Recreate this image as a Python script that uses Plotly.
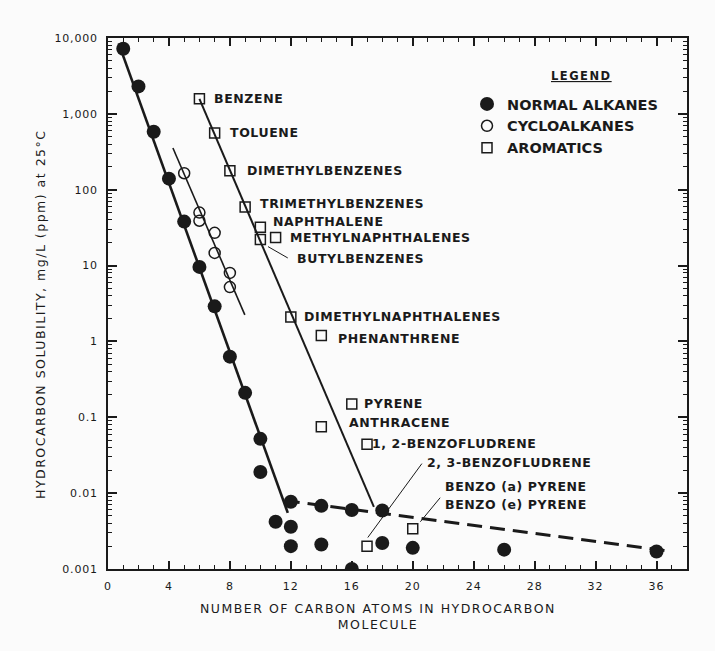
import numpy as np
import plotly.graph_objects as go

# ---------------- data ----------------
alkane_x = [1, 2, 3, 4, 5, 6, 7, 8, 9, 10, 10, 11, 12, 12, 12, 14, 14, 16, 16, 18, 18, 20, 26, 36]
alkane_y = [7200, 2300, 580, 140, 38, 9.6, 2.9, 0.63, 0.21, 0.052, 0.019, 0.0042,
            0.0077, 0.0036, 0.002, 0.0068, 0.0021, 0.006, 0.001, 0.0059, 0.0022, 0.0019, 0.0018, 0.0017]

cyclo_x = [5, 6, 6, 7, 7, 8, 8]
cyclo_y = [165, 50, 39, 27, 14.7, 8.0, 5.2]

arom_names = ["BENZENE", "TOLUENE", "DIMETHYLBENZENES", "TRIMETHYLBENZENES", "NAPHTHALENE",
              "BUTYLBENZENES", "METHYLNAPHTHALENES", "DIMETHYLNAPHTHALENES", "PHENANTHRENE",
              "PYRENE", "ANTHRACENE", "1, 2-BENZOFLUDRENE", "2, 3-BENZOFLUDRENE", "BENZO (a) PYRENE"]
arom_x = [6, 7, 8, 9, 10, 10, 11, 12, 14, 16, 14, 17, 17, 20]
arom_y = [1580, 560, 178, 59, 32, 22, 23.5, 2.1, 1.2, 0.15, 0.075, 0.044, 0.002, 0.0034]

# fitted trend lines (end points)
alk_line_x = [0.7, 11.8]
alk_line_y = [8500, 0.0055]
alk_tail_x = [11.6, 37.0]
alk_tail_y = [0.008, 0.0017]
cyclo_line_x = [4.26, 8.98]
cyclo_line_y = [355, 2.24]
arom_line_x = [6.0, 17.45]
arom_line_y = [1580, 0.0066]

# labels: text, x, y (data units)
label_text = ["BENZENE", "TOLUENE", "DIMETHYLBENZENES", "TRIMETHYLBENZENES", "NAPHTHALENE",
              "METHYLNAPHTHALENES", "BUTYLBENZENES", "DIMETHYLNAPHTHALENES", "PHENANTHRENE",
              "PYRENE", "ANTHRACENE", "1, 2-BENZOFLUDRENE", "2, 3-BENZOFLUDRENE",
              "BENZO (a) PYRENE", "BENZO (e) PYRENE"]
label_x = [6.82, 7.87, 8.98, 9.84, 10.69, 11.80, 12.26, 12.72, 14.95, 16.66, 15.67, 17.18, 20.79, 21.97, 21.97]
label_logy = [3.196, 2.748, 2.248, 1.813, 1.576, 1.365, 1.088, 0.324, 0.034, -0.822, -1.072,
              -1.349, -1.599, -1.916, -2.153]

# leader lines
leaders = [
    ([10.5, 11.8], [17.8, 12.6]),
    ([17.05, 20.6], [0.0026, 0.0245]),
    ([20.5, 21.8], [0.0042, 0.0087]),
]

x_ticks = list(range(0, 37, 4))
x_minor = list(range(0, 39, 1))
y_ticks = [0.001, 0.01, 0.1, 1, 10, 100, 1000, 10000]
y_ticktext = ["0.001", "0.01", "0.1", "1", "10", "100", "1,000", "10,000"]
y_minor = [m * 10.0 ** e for e in range(-3, 4) for m in range(2, 10)]

INK = "#1a1a1a"
FONT = "DejaVu Sans"


def spaced(t, ls=1.0):
    return f'<span style="letter-spacing:{ls}px">{t}</span>'


fig = go.Figure()

# trend lines
fig.add_trace(go.Scatter(x=alk_line_x, y=alk_line_y, mode="lines",
                         line=dict(color=INK, width=2.6), showlegend=False, hoverinfo="skip"))
fig.add_trace(go.Scatter(x=alk_tail_x, y=alk_tail_y, mode="lines",
                         line=dict(color=INK, width=3, dash="15px,8px"), showlegend=False, hoverinfo="skip"))
fig.add_trace(go.Scatter(x=cyclo_line_x, y=cyclo_line_y, mode="lines",
                         line=dict(color=INK, width=1.6), showlegend=False, hoverinfo="skip"))
fig.add_trace(go.Scatter(x=arom_line_x, y=arom_line_y, mode="lines",
                         line=dict(color=INK, width=2.0), showlegend=False, hoverinfo="skip"))
for lx, ly in leaders:
    fig.add_trace(go.Scatter(x=lx, y=ly, mode="lines", line=dict(color=INK, width=1),
                             showlegend=False, hoverinfo="skip"))

# markers
fig.add_trace(go.Scatter(x=alkane_x, y=alkane_y, mode="markers", name="NORMAL ALKANES",
                         marker=dict(symbol="circle", size=14, color=INK)))
fig.add_trace(go.Scatter(x=cyclo_x, y=cyclo_y, mode="markers", name="CYCLOALKANES",
                         marker=dict(symbol="circle-open", size=11, color=INK, line=dict(width=1.5))))
fig.add_trace(go.Scatter(x=arom_x, y=arom_y, mode="markers", name="AROMATICS", text=arom_names,
                         marker=dict(symbol="square-open", size=10, color=INK, line=dict(width=1.5))))

annotations = []
for t, lx, ly in zip(label_text, label_x, label_logy):
    annotations.append(dict(x=lx, y=ly, xref="x", yref="y", text=spaced(t, 0.6), showarrow=False,
                            xanchor="left", yanchor="middle",
                            font=dict(family=FONT, size=12.5, color=INK, weight="bold")))

# legend title
annotations.append(dict(x=(581 - 108) / 579, y=(569 - 76) / 531, xref="paper", yref="paper",
                        text=spaced("LEGEND", 1.5), showarrow=False, xanchor="center", yanchor="middle",
                        font=dict(family=FONT, size=11.5, color=INK, weight="bold", lineposition="under")))

# axis titles
annotations.append(dict(x=(378 - 108) / 579, y=(569 - 616) / 531, xref="paper", yref="paper",
                        text=spaced("NUMBER OF CARBON ATOMS IN HYDROCARBON", 1.5) + "<br>" + spaced("MOLECULE", 1.5),
                        showarrow=False, xanchor="center", yanchor="middle", align="center",
                        font=dict(family=FONT, size=12.5, color=INK)))
annotations.append(dict(x=(40 - 108) / 579, y=(569 - 314) / 531, xref="paper", yref="paper",
                        text=spaced("HYDROCARBON SOLUBILITY, mg/L (ppm) at 25°C", 1.5),
                        showarrow=False, xanchor="center", yanchor="middle", textangle=-90,
                        font=dict(family=FONT, size=12.5, color=INK)))

fig.update_layout(
    width=715, height=651,
    margin=dict(l=108, r=28, t=38, b=82),
    paper_bgcolor="#fbfbfb", plot_bgcolor="#fbfbfb",
    font=dict(family=FONT, color=INK),
    showlegend=True,
    legend=dict(x=(467 - 108) / 579, y=(569 - 88) / 531, xanchor="left", yanchor="top",
                bgcolor="rgba(0,0,0,0)", font=dict(family=FONT, size=14.5, color=INK, weight="bold"),
                itemsizing="trace"),
    annotations=annotations,
)

fig.update_xaxes(
    range=[0, 38], tickmode="array", tickvals=x_ticks, ticktext=[spaced(str(v), 1) for v in x_ticks],
    ticks="inside", ticklen=8, tickwidth=1.5, tickcolor=INK,
    showline=True, linewidth=2, linecolor=INK, mirror="ticks",
    showgrid=False, zeroline=False, ticklabelstandoff=6,
    tickfont=dict(family=FONT, size=11, color=INK),
    minor=dict(ticks="inside", ticklen=4, tickwidth=1, tickcolor=INK,
               tickmode="array", tickvals=x_minor, showgrid=False),
)
fig.update_yaxes(
    type="log", range=[-3, 4], tickmode="array", tickvals=y_ticks,
    ticktext=[spaced(t, 0.8) for t in y_ticktext],
    ticks="inside", ticklen=9, tickwidth=1.5, tickcolor=INK,
    showline=True, linewidth=2, linecolor=INK, mirror="ticks",
    showgrid=False, zeroline=False, ticklabelstandoff=6,
    tickfont=dict(family=FONT, size=11, color=INK),
    minor=dict(ticks="inside", ticklen=4, tickwidth=1, tickcolor=INK,
               tickmode="array", tickvals=y_minor, showgrid=False),
)

fig.write_html("out.html", config={"displayModeBar": False},
               post_script="document.body.style.margin='0';")
